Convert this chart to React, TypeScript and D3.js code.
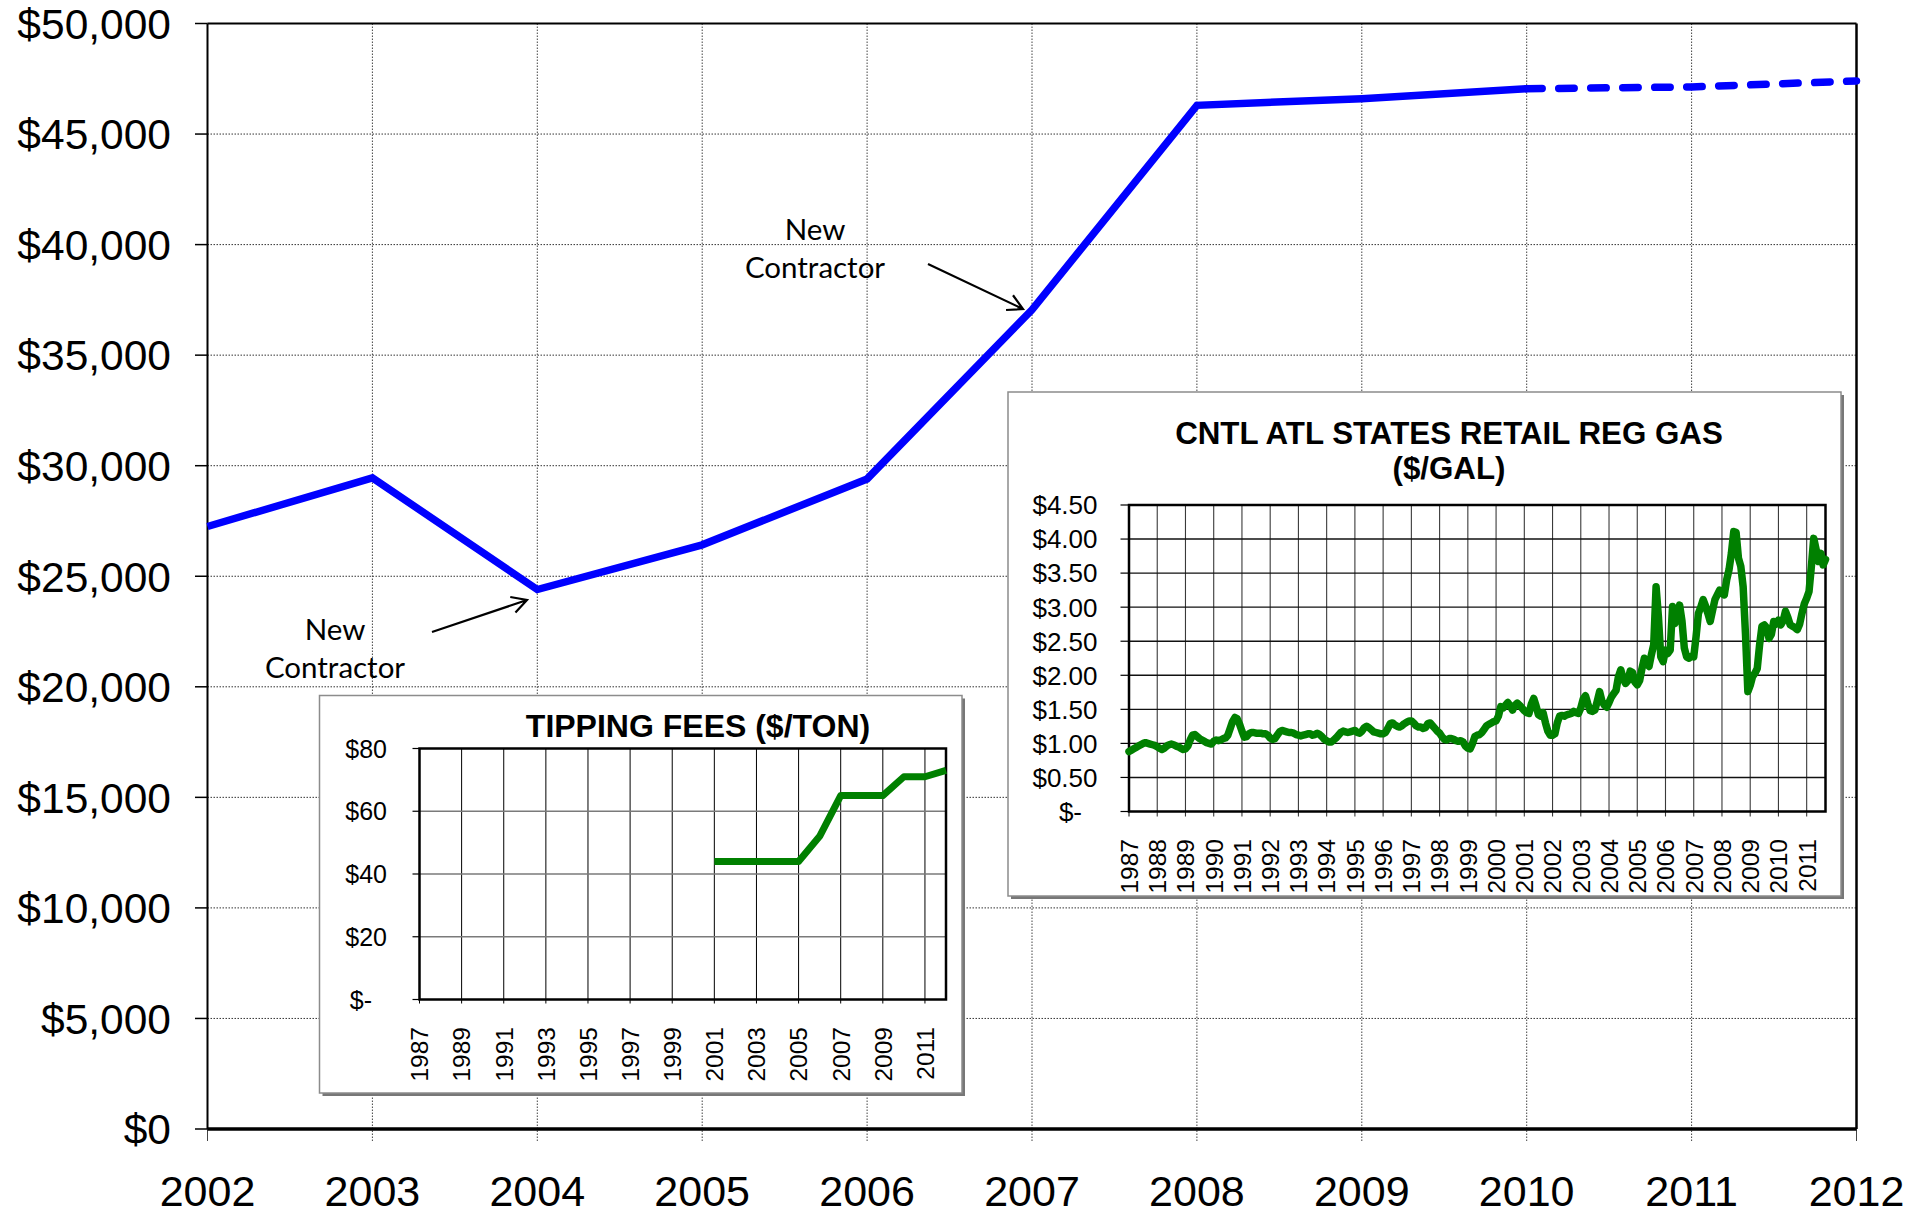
import React, { useRef, useEffect } from 'react';
import * as d3 from 'd3';

const W = 1911;
const H = 1214;
const ARIAL = '"Liberation Sans", Arial, sans-serif';
const NOTE_FONT = 'Lato, "Open Sans", sans-serif';

// main chart: annual cost
const costYears = [2002, 2003, 2004, 2005, 2006, 2007, 2008, 2009, 2010];
const costValues = [27250, 29450, 24400, 26420, 29400, 37050, 46300, 46600, 47050];
const projYears = [2010, 2011, 2012];
const projValues = [47050, 47130, 47400];
const yearTicks = [2002, 2003, 2004, 2005, 2006, 2007, 2008, 2009, 2010, 2011, 2012];
const costTicks = [0, 5000, 10000, 15000, 20000, 25000, 30000, 35000, 40000, 45000, 50000];

// inset 1: tipping fees
const tipYears = [2001, 2002, 2003, 2004, 2005, 2006, 2007, 2008, 2009, 2010, 2011, 2012];
const tipValues = [44, 44, 44, 44, 44, 52, 65, 65, 65, 71, 71, 73];
const tipTickYears = [1987, 1989, 1991, 1993, 1995, 1997, 1999, 2001, 2003, 2005, 2007, 2009, 2011];
const tipTicks = [0, 20, 40, 60, 80];

// inset 2: monthly gas price, Jan 1987 .. Sep 2011
const gasStartYear = 1987;
const gasMonthly = [
  0.88, 0.90, 0.92, 0.94, 0.96, 0.98, 1.00, 1.01, 1.00, 0.99, 0.98, 0.97, // 1987
  0.95, 0.93, 0.91, 0.93, 0.96, 0.98, 0.99, 0.98, 0.96, 0.95, 0.93, 0.91, // 1988
  0.92, 0.96, 1.05, 1.12, 1.13, 1.10, 1.07, 1.05, 1.03, 1.01, 1.00, 0.99, // 1989
  1.03, 1.05, 1.04, 1.05, 1.07, 1.08, 1.12, 1.22, 1.32, 1.38, 1.36, 1.28, // 1990
  1.18, 1.09, 1.10, 1.14, 1.16, 1.16, 1.15, 1.15, 1.15, 1.14, 1.14, 1.12, // 1991
  1.08, 1.06, 1.07, 1.12, 1.17, 1.19, 1.18, 1.17, 1.16, 1.16, 1.15, 1.13, // 1992
  1.12, 1.11, 1.12, 1.13, 1.14, 1.14, 1.12, 1.13, 1.15, 1.13, 1.10, 1.06, // 1993
  1.04, 1.02, 1.02, 1.05, 1.08, 1.12, 1.16, 1.18, 1.17, 1.16, 1.17, 1.18, // 1994
  1.19, 1.16, 1.15, 1.18, 1.23, 1.25, 1.23, 1.20, 1.17, 1.16, 1.15, 1.14, // 1995
  1.14, 1.16, 1.22, 1.29, 1.30, 1.27, 1.25, 1.24, 1.26, 1.29, 1.31, 1.33, // 1996
  1.33, 1.30, 1.26, 1.24, 1.24, 1.22, 1.23, 1.29, 1.30, 1.26, 1.22, 1.18, // 1997
  1.15, 1.10, 1.06, 1.05, 1.07, 1.07, 1.06, 1.04, 1.03, 1.04, 1.02, 0.96, // 1998
  0.93, 0.92, 1.00, 1.10, 1.12, 1.13, 1.16, 1.21, 1.26, 1.28, 1.30, 1.32, // 1999
  1.33, 1.40, 1.54, 1.52, 1.56, 1.60, 1.55, 1.49, 1.56, 1.59, 1.56, 1.52, // 2000
  1.48, 1.45, 1.44, 1.58, 1.66, 1.55, 1.42, 1.40, 1.45, 1.30, 1.18, 1.12, // 2001
  1.12, 1.14, 1.30, 1.40, 1.41, 1.40, 1.42, 1.43, 1.44, 1.47, 1.45, 1.44, // 2002
  1.52, 1.65, 1.70, 1.58, 1.48, 1.47, 1.49, 1.62, 1.76, 1.62, 1.56, 1.53, // 2003
  1.60, 1.68, 1.73, 1.78, 1.98, 2.08, 1.95, 1.88, 1.92, 2.06, 2.04, 1.90, // 2004
  1.86, 1.92, 2.10, 2.25, 2.18, 2.13, 2.30, 2.45, 3.30, 2.86, 2.27, 2.20, // 2005
  2.37, 2.32, 2.37, 3.01, 2.76, 2.85, 3.03, 2.80, 2.40, 2.27, 2.25, 2.28, // 2006
  2.27, 2.57, 2.91, 3.00, 3.11, 3.02, 2.91, 2.79, 2.95, 3.11, 3.18, 3.25, // 2007
  3.20, 3.18, 3.40, 3.55, 3.79, 4.11, 4.10, 3.72, 3.60, 3.30, 2.60, 1.76, // 2008
  1.85, 1.98, 2.03, 2.10, 2.45, 2.72, 2.74, 2.70, 2.54, 2.60, 2.79, 2.75, // 2009
  2.81, 2.74, 2.80, 2.94, 2.85, 2.74, 2.72, 2.70, 2.67, 2.75, 2.91, 3.05, // 2010
  3.13, 3.23, 3.60, 4.01, 3.85, 3.67, 3.79, 3.62, 3.70, // 2011
];
const gasTickYears = [
  1987, 1988, 1989, 1990, 1991, 1992, 1993, 1994, 1995, 1996, 1997, 1998, 1999,
  2000, 2001, 2002, 2003, 2004, 2005, 2006, 2007, 2008, 2009, 2010, 2011,
];
const gasTicks = [0, 0.5, 1, 1.5, 2, 2.5, 3, 3.5, 4, 4.5];

type Sel = d3.Selection<SVGGElement, unknown, null, undefined>;

// open "V" arrow like the Excel callouts
function arrow(g: Sel, x1: number, y1: number, x2: number, y2: number) {
  const a = Math.atan2(y2 - y1, x2 - x1);
  const len = 17;
  const spread = 0.5;
  const p = (d: number) => [x2 - len * Math.cos(a + d), y2 - len * Math.sin(a + d)];
  const [ax, ay] = p(spread);
  const [bx, by] = p(-spread);
  g.append('path')
    .attr('d', `M${x1},${y1}L${x2},${y2}M${ax},${ay}L${x2},${y2}L${bx},${by}`)
    .attr('fill', 'none')
    .attr('stroke', '#000')
    .attr('stroke-width', 2.2);
}

function insetBox(g: Sel, x0: number, y0: number, x1: number, y1: number) {
  g.append('rect')
    .attr('x', x0 + 3).attr('y', y0 + 3)
    .attr('width', x1 - x0).attr('height', y1 - y0)
    .attr('fill', '#777');
  g.append('rect')
    .attr('x', x0).attr('y', y0)
    .attr('width', x1 - x0).attr('height', y1 - y0)
    .attr('fill', '#fff')
    .attr('stroke', '#8c8c8c')
    .attr('stroke-width', 1.5);
}

export default function App() {
  const ref = useRef<SVGSVGElement>(null);

  useEffect(() => {
    if (!ref.current) return;
    const svg = d3.select(ref.current);
    svg.selectAll('*').remove();
    svg.append('rect').attr('width', W).attr('height', H).attr('fill', '#fff');
    const root = svg.append('g') as unknown as Sel;

    // ---------- main chart ----------
    const x = d3.scaleLinear().domain([2002, 2012]).range([207.5, 1856.5]);
    const y = d3.scaleLinear().domain([0, 50000]).range([1129, 23.5]);
    const [left, right] = x.range();
    const [bottom, top] = y.range();

    root.selectAll('.hgrid')
      .data(costTicks.filter((v) => v > 0 && v < 50000))
      .join('line')
      .attr('x1', left).attr('x2', right)
      .attr('y1', (d) => y(d)).attr('y2', (d) => y(d))
      .attr('stroke', '#333').attr('stroke-width', 1).attr('stroke-dasharray', '1.5 1.5');

    root.selectAll('.vgrid')
      .data(yearTicks.filter((v) => v > 2002 && v < 2012))
      .join('line')
      .attr('x1', (d) => x(d)).attr('x2', (d) => x(d))
      .attr('y1', top).attr('y2', bottom + 12)
      .attr('stroke', '#444').attr('stroke-width', 1).attr('stroke-dasharray', '1.5 1.5');

    // x ticks at the edges
    [2002, 2012].forEach((v) => {
      root.append('line')
        .attr('x1', x(v)).attr('x2', x(v)).attr('y1', bottom).attr('y2', bottom + 12)
        .attr('stroke', '#444').attr('stroke-width', 1);
    });

    // frame
    root.append('line').attr('x1', left).attr('x2', right).attr('y1', top).attr('y2', top)
      .attr('stroke', '#000').attr('stroke-width', 2);
    root.append('line').attr('x1', right).attr('x2', right).attr('y1', top).attr('y2', bottom)
      .attr('stroke', '#000').attr('stroke-width', 2.5);
    root.append('line').attr('x1', left).attr('x2', left).attr('y1', top).attr('y2', bottom)
      .attr('stroke', '#000').attr('stroke-width', 2);

    // y ticks + labels
    root.selectAll('.ytick')
      .data(costTicks)
      .join('line')
      .attr('x1', left - 12.5).attr('x2', left)
      .attr('y1', (d) => y(d)).attr('y2', (d) => y(d))
      .attr('stroke', '#000').attr('stroke-width', 1.5);
    const fmtCost = d3.format('$,');
    root.selectAll('.ylab')
      .data(costTicks)
      .join('text')
      .attr('x', 171)
      .attr('y', (d) => y(d))
      .attr('dy', '0.36em')
      .attr('text-anchor', 'end')
      .attr('font-family', ARIAL)
      .attr('font-size', 42.5)
      .attr('fill', '#000')
      .text((d) => fmtCost(d));

    root.selectAll('.xlab')
      .data(yearTicks)
      .join('text')
      .attr('x', (d) => x(d))
      .attr('y', 1206)
      .attr('text-anchor', 'middle')
      .attr('font-family', ARIAL)
      .attr('font-size', 43)
      .attr('fill', '#000')
      .text((d) => String(d));

    // lines
    const costLine = d3.line<number>().x((_, i) => x(costYears[i])).y((d) => y(d));
    root.append('path')
      .attr('d', costLine(costValues) ?? '')
      .attr('fill', 'none')
      .attr('stroke', '#0000ff')
      .attr('stroke-width', 7.5);
    const projLine = d3.line<number>().x((_, i) => x(projYears[i])).y((d) => y(d));
    root.append('path')
      .attr('d', projLine(projValues) ?? '')
      .attr('fill', 'none')
      .attr('stroke', '#0000ff')
      .attr('stroke-width', 7.5)
      .attr('stroke-linecap', 'round')
      .attr('stroke-dasharray', '15.5 16.5');

    // bottom axis line drawn last so it sits on top
    root.append('line').attr('x1', left).attr('x2', right).attr('y1', bottom).attr('y2', bottom)
      .attr('stroke', '#000').attr('stroke-width', 3.5);

    // annotations
    const note = (cx: number, by: number) => {
      ['New', 'Contractor'].forEach((t, i) => {
        root.append('text')
          .attr('x', cx).attr('y', by + i * 37.5)
          .attr('text-anchor', 'middle')
          .attr('font-family', NOTE_FONT)
          .attr('font-size', 29.5)
          .attr('fill', '#000')
          .text(t);
      });
    };
    note(815, 240);
    arrow(root, 928, 264, 1023, 309);
    note(335, 640);
    arrow(root, 432, 632, 527, 600);

    // ---------- inset 1: tipping fees ----------
    insetBox(root, 319.5, 695.5, 962, 1093);
    const tx = d3.scaleLinear().domain([1987, 2012]).range([419.5, 946]);
    const ty = d3.scaleLinear().domain([0, 80]).range([999.5, 748.5]);
    const [tb, tt] = ty.range();
    const [tl, tr] = tx.range();

    root.selectAll('.tv')
      .data(tipTickYears.slice(1))
      .join('line')
      .attr('x1', (d) => tx(d)).attr('x2', (d) => tx(d))
      .attr('y1', tt).attr('y2', tb + 4)
      .attr('stroke', '#000').attr('stroke-width', 1);
    root.selectAll('.th')
      .data(tipTicks.slice(1, -1))
      .join('line')
      .attr('x1', tl).attr('x2', tr)
      .attr('y1', (d) => ty(d)).attr('y2', (d) => ty(d))
      .attr('stroke', '#7a7a7a').attr('stroke-width', 1.6);
    root.append('rect')
      .attr('x', tl).attr('y', tt).attr('width', tr - tl).attr('height', tb - tt)
      .attr('fill', 'none').attr('stroke', '#000').attr('stroke-width', 2.5);
    root.selectAll('.tyt')
      .data(tipTicks)
      .join('line')
      .attr('x1', tl - 7).attr('x2', tl)
      .attr('y1', (d) => ty(d)).attr('y2', (d) => ty(d))
      .attr('stroke', '#000').attr('stroke-width', 1.2);
    root.append('line')
      .attr('x1', tl).attr('x2', tl).attr('y1', tb).attr('y2', tb + 4)
      .attr('stroke', '#000').attr('stroke-width', 1);
    const fmtTip = d3.format('$');
    root.selectAll('.tyl')
      .data(tipTicks)
      .join('text')
      .attr('x', (d) => (d === 0 ? 372 : 387))
      .attr('y', (d) => ty(d))
      .attr('dy', '0.36em')
      .attr('text-anchor', 'end')
      .attr('font-family', ARIAL)
      .attr('font-size', 25)
      .attr('fill', '#000')
      .text((d) => (d === 0 ? '$-' : fmtTip(d)));
    root.selectAll('.txl')
      .data(tipTickYears)
      .join('text')
      .attr('transform', (d) => `translate(${tx(d)},1027) rotate(-90)`)
      .attr('dy', '0.36em')
      .attr('text-anchor', 'end')
      .attr('font-family', ARIAL)
      .attr('font-size', 24.5)
      .attr('fill', '#000')
      .text((d) => String(d));
    root.append('text')
      .attr('x', 698).attr('y', 737)
      .attr('text-anchor', 'middle')
      .attr('font-family', ARIAL)
      .attr('font-weight', 'bold')
      .attr('font-size', 32)
      .attr('fill', '#000')
      .text('TIPPING FEES ($/TON)');
    const tipLine = d3.line<number>().x((_, i) => tx(tipYears[i])).y((d) => ty(d));
    root.append('path')
      .attr('d', tipLine(tipValues) ?? '')
      .attr('fill', 'none')
      .attr('stroke', '#008000')
      .attr('stroke-width', 7)
      .attr('stroke-linejoin', 'round');

    // ---------- inset 2: gas ----------
    insetBox(root, 1008, 392, 1841, 896);
    const gx = d3.scaleLinear()
      .domain([gasStartYear, gasStartYear + (gasMonthly.length - 1) / 12])
      .range([1129, 1825.5]);
    const gy = d3.scaleLinear().domain([0, 4.5]).range([811.5, 505]);
    const [gb, gt] = gy.range();
    const [gl, gr] = gx.range();

    root.selectAll('.gv')
      .data(gasTickYears.slice(1))
      .join('line')
      .attr('x1', (d) => gx(d)).attr('x2', (d) => gx(d))
      .attr('y1', gt).attr('y2', gb + 5)
      .attr('stroke', '#3a3a3a').attr('stroke-width', 1.1);
    root.selectAll('.gh')
      .data(gasTicks.slice(1, -1))
      .join('line')
      .attr('x1', gl).attr('x2', gr)
      .attr('y1', (d) => gy(d)).attr('y2', (d) => gy(d))
      .attr('stroke', '#111').attr('stroke-width', 1.4);
    root.append('rect')
      .attr('x', gl).attr('y', gt).attr('width', gr - gl).attr('height', gb - gt)
      .attr('fill', 'none').attr('stroke', '#000').attr('stroke-width', 2.5);
    root.selectAll('.gyt')
      .data(gasTicks)
      .join('line')
      .attr('x1', gl - 8.5).attr('x2', gl)
      .attr('y1', (d) => gy(d)).attr('y2', (d) => gy(d))
      .attr('stroke', '#000').attr('stroke-width', 1.2);
    root.append('line')
      .attr('x1', gl).attr('x2', gl).attr('y1', gb).attr('y2', gb + 5)
      .attr('stroke', '#000').attr('stroke-width', 1);
    const fmtGas = d3.format('$.2f');
    root.selectAll('.gyl')
      .data(gasTicks)
      .join('text')
      .attr('x', (d) => (d === 0 ? 1082 : 1097.5))
      .attr('y', (d) => gy(d))
      .attr('dy', '0.36em')
      .attr('text-anchor', 'end')
      .attr('font-family', ARIAL)
      .attr('font-size', 26)
      .attr('fill', '#000')
      .text((d) => (d === 0 ? '$-' : fmtGas(d)));
    root.selectAll('.gxl')
      .data(gasTickYears)
      .join('text')
      .attr('transform', (d) => `translate(${gx(d)},839) rotate(-90)`)
      .attr('dy', '0.36em')
      .attr('text-anchor', 'end')
      .attr('font-family', ARIAL)
      .attr('font-size', 24.5)
      .attr('fill', '#000')
      .text((d) => String(d));
    ['CNTL ATL STATES RETAIL REG GAS', '($/GAL)'].forEach((t, i) => {
      root.append('text')
        .attr('x', 1449).attr('y', 444 + i * 34.5)
        .attr('text-anchor', 'middle')
        .attr('font-family', ARIAL)
        .attr('font-weight', 'bold')
        .attr('font-size', 31.3)
        .attr('fill', '#000')
        .text(t);
    });
    const gasLine = d3.line<number>()
      .x((_, i) => gx(gasStartYear + i / 12))
      .y((d) => gy(d));
    root.append('path')
      .attr('d', gasLine(gasMonthly) ?? '')
      .attr('fill', 'none')
      .attr('stroke', '#008000')
      .attr('stroke-width', 7.5)
      .attr('stroke-linejoin', 'round')
      .attr('stroke-linecap', 'round');
  }, []);

  return (
    <svg
      ref={ref}
      width={W}
      height={H}
      viewBox={`0 0 ${W} ${H}`}
      style={{ position: 'absolute', left: 0, top: 0, display: 'block' }}
    />
  );
}
